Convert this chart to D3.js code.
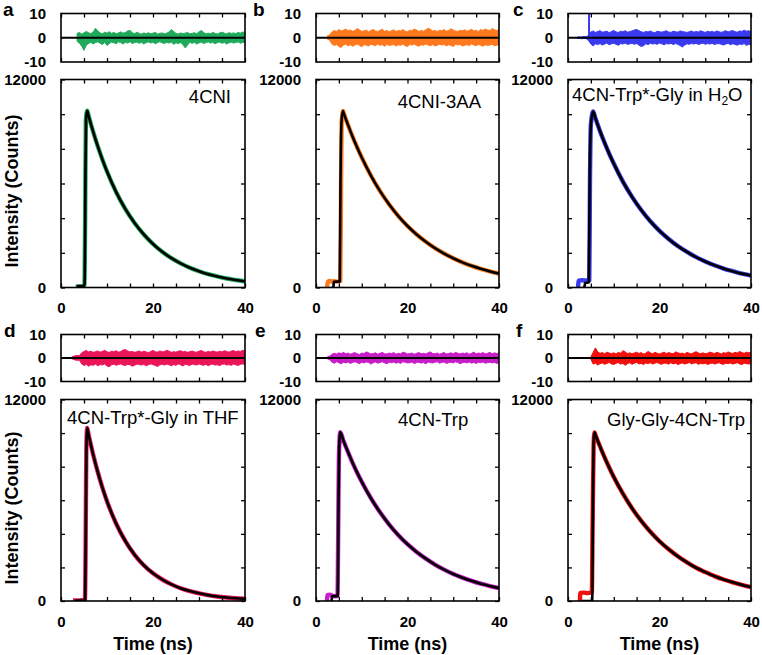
<!DOCTYPE html>
<html><head><meta charset="utf-8">
<script src="https://cdn.jsdelivr.net/npm/d3@7"></script>
<style>body{margin:0;background:#fff} svg text{font-family:"Liberation Sans",Arial,sans-serif}</style>
</head><body><svg id="chart" width="762" height="655"></svg>
<script>
// ---------------- DATA ----------------
const panelLetters = ["a","b","c","d","e","f"];
const panelNames = ["4CNI","4CNI-3AA","4CN-Trp*-Gly in H2O","4CN-Trp*-Gly in THF","4CN-Trp","Gly-Gly-4CN-Trp"];
const xTicks = [0,5,10,15,20,25,30,35,40];
const xTickLabels = [0,20,40];
const yMainTicks = [0,2000,4000,6000,8000,10000,12000];
const yMainLabels = [0,12000];
const yResTicks = [-10,0,10];

// decay part (ns) shared grid
const decayT = [6,7,8,9,10,12,14,16,18,20,22,24,26,28,30,32,34,36,38,40];
const aDecay = [9900,8980,8140,7380,6690,5500,4520,3720,3060,2510,2060,1690,1390,1140,940,770,640,520,430,350];
const bDecay = [10100,9380,8700,8080,7500,6460,5560,4790,4120,3550,3060,2640,2270,1960,1690,1450,1250,1080,930,800];
const cDecay = [9760,9020,8350,7720,7150,6110,5230,4470,3820,3270,2800,2390,2050,1750,1500,1280,1090,940,800,690];
const dDecay = [9910,8710,7670,6750,5940,4600,3560,2750,2130,1650,1280,990,760,590,460,350,270,210,160,130];
const eDecay = [9540,8870,8230,7640,7100,6120,5280,4550,3920,3380,2920,2520,2170,1870,1610,1390,1200,1030,890,770];
const fDecay = [9890,9200,8550,7950,7390,6390,5520,4770,4120,3560,3080,2660,2300,1980,1720,1480,1280,1110,960,830];

// rise part: measured data (colored)
const aRiseT = [3.2,4.0,4.8,5.1,5.25,5.4,5.7];      const aRiseY = [40,60,70,150,4000,9600,10200];
const bRiseT = [2.4,2.6,3.0,3.5,4.0,4.5,5.0,5.3,5.45,5.6,5.9]; const bRiseY = [0,330,380,350,360,340,360,380,5000,9500,10180];
const cRiseT = [2.2,2.35,3.0,3.6,4.1,4.5,4.65,4.8,5.0,5.5]; const cRiseY = [0,400,420,400,410,380,400,6000,9400,10150];
const dRiseT = [2.6,4.0,5.2,5.35,5.5,5.7];          const dRiseY = [30,40,60,3000,9000,10300];
const eRiseT = [2.4,2.5,3.0,3.4,3.5,4.7,4.85,5.0,5.3]; const eRiseY = [0,350,380,350,280,300,4000,8500,10050];
const fRiseT = [2.6,2.7,3.5,4.2,5.0,5.2,5.4,5.6,5.8]; const fRiseY = [0,480,500,470,490,480,5000,9300,10040];
// rise part: fit (black)
const aFitT = [3.4,4.8,5.15,5.3,5.45,5.7];          const aFitY = [80,90,200,6000,9800,10200];
const bFitT = [3.4,3.8,3.9,5.2,5.35,5.6,5.9];        const bFitY = [0,0,330,350,6000,9700,10180];
const cFitT = [3.2,3.6,3.7,4.55,4.7,5.0,5.5];        const cFitY = [0,0,250,300,5000,9400,10150];
const dFitT = [3.0,5.25,5.4,5.55,5.7];               const dFitY = [20,40,5000,9600,10300];
const eFitT = [3.4,3.5,4.75,4.9,5.05,5.3];           const eFitY = [0,280,300,5000,9000,10050];
const fFitT = [3.0,5.3,5.45,5.6,5.8];                const fFitY = [0,0,6000,9500,10040];

// residual envelopes, sampled every resStep ns from the start time
const resStep = 0.5;
const resStart = [3.5,2.5,2.0,2.5,2.5,5.0];
const aResHi = [1.8,2.2,1.5,2.0,2.6,2.1,1.7,2.4,3.9,2.8,2.0,1.6,2.3,1.9,2.5,1.8,2.2,1.6,2.0,2.4,1.9,2.2,2.8,3.0,2.1,1.7,2.3,1.8,1.5,2.0,1.7,2.1,1.6,1.9,2.2,1.5,1.8,2.0,1.6,1.9,2.4,3.4,2.6,1.8,1.5,2.0,1.7,1.9,2.2,1.6,1.8,2.1,1.7,2.4,3.0,2.2,1.6,1.9,1.7,2.2,1.8,1.5,2.0,2.3,1.9,1.6,2.1,1.8,2.0,1.7,2.2,1.9,2.4,2.0];
const aResLo = [-1.5,-2.2,-3.5,-5.2,-3.0,-2.4,-1.9,-2.6,-2.0,-1.7,-2.3,-2.8,-1.9,-3.2,-2.4,-1.8,-2.1,-2.5,-1.7,-2.0,-2.6,-1.9,-2.2,-1.6,-2.4,-2.0,-1.8,-2.3,-1.9,-2.6,-2.0,-1.7,-2.2,-1.8,-2.5,-2.0,-1.6,-2.1,-2.4,-1.9,-2.2,-1.8,-2.7,-2.1,-2.4,-2.0,-2.8,-4.2,-3.0,-1.9,-2.3,-1.9,-2.6,-2.1,-1.8,-2.4,-2.0,-1.7,-2.2,-1.9,-2.5,-2.0,-1.8,-2.3,-1.9,-2.6,-2.1,-1.8,-2.2,-2.0,-1.7,-2.3,-1.9,-2.1];
const bResHi = [0.8,1.2,2.4,3.0,2.6,3.4,2.8,3.1,3.6,2.9,3.2,2.7,3.0,3.8,3.3,2.6,2.9,3.1,2.5,3.0,3.4,2.8,2.6,3.1,3.5,2.7,3.0,2.5,2.9,3.3,2.6,3.0,2.8,3.4,2.7,2.5,3.1,2.9,3.6,3.2,2.6,3.0,2.7,3.3,3.9,3.5,2.8,3.0,2.6,3.1,2.9,3.4,2.7,3.0,3.7,3.2,2.8,2.6,3.1,2.9,3.3,2.7,3.0,3.5,2.8,3.1,2.6,3.4,3.0,3.6,3.2,2.9,3.8,3.3,3.0,3.4];
const bResLo = [-0.6,-1.0,-2.6,-3.2,-2.8,-3.6,-4.0,-3.0,-2.7,-3.3,-2.9,-3.5,-3.0,-2.6,-3.2,-3.7,-2.8,-3.1,-3.4,-2.7,-3.0,-3.3,-2.6,-3.1,-2.9,-3.5,-2.7,-3.2,-3.0,-2.8,-3.4,-2.9,-3.1,-2.6,-3.3,-3.6,-2.8,-3.0,-2.7,-3.2,-3.5,-2.9,-3.1,-2.6,-3.0,-3.3,-2.8,-3.4,-3.1,-2.7,-3.0,-2.8,-3.3,-2.9,-3.2,-3.6,-2.7,-3.0,-2.8,-3.4,-3.1,-2.9,-3.2,-2.6,-3.0,-3.3,-2.8,-3.1,-3.5,-2.9,-3.2,-3.0,-2.7,-3.3,-3.1,-2.8];
const cResHi = [0.3,0.4,0.3,0.5,0.4,1.0,2.4,2.8,2.2,2.6,2.9,2.3,2.5,2.7,2.1,2.6,3.0,2.4,2.2,2.7,2.5,2.9,2.3,2.6,2.8,3.2,3.4,2.9,2.5,2.2,2.6,2.4,2.8,2.3,2.1,2.7,2.5,2.3,2.6,2.9,2.4,2.2,2.7,2.5,2.3,2.8,2.6,2.4,2.2,2.5,2.8,2.3,2.6,2.4,2.9,2.5,2.2,2.7,2.4,2.6,2.3,2.8,2.5,2.2,2.6,2.9,2.4,2.7,3.0,2.5,2.3,2.8,2.6,3.1,2.7,2.9,2.5];
const cResLo = [-0.3,-0.3,-0.4,-0.3,-0.4,-1.2,-2.6,-3.4,-2.5,-2.8,-2.4,-3.0,-2.6,-2.2,-2.9,-2.5,-2.3,-2.7,-3.1,-2.4,-2.6,-2.2,-2.8,-2.5,-2.3,-2.7,-2.4,-3.0,-3.6,-3.3,-2.5,-2.8,-2.3,-2.6,-2.4,-2.7,-2.2,-2.5,-2.9,-2.4,-2.6,-2.3,-2.8,-2.4,-2.7,-3.2,-3.8,-3.0,-2.5,-2.7,-2.4,-2.6,-2.3,-2.8,-2.5,-2.2,-2.7,-2.4,-2.6,-2.3,-2.8,-2.5,-2.4,-2.7,-3.0,-2.6,-2.3,-2.9,-2.5,-2.7,-3.1,-2.6,-2.8,-2.4,-3.2,-2.7,-2.9];
const dResHi = [0.6,0.9,1.1,1.0,2.2,2.8,3.2,2.6,2.9,2.4,2.7,3.0,2.5,2.8,3.3,2.6,2.4,2.9,2.7,3.1,2.5,2.8,3.4,3.6,3.0,2.6,2.8,2.4,2.7,3.0,2.5,2.9,2.6,2.3,2.8,3.2,2.7,2.5,3.0,2.6,2.8,3.3,2.9,2.4,2.7,2.5,2.9,3.1,2.6,2.8,2.4,2.7,3.0,2.6,2.5,2.9,3.2,2.7,2.4,2.8,2.6,3.0,2.7,2.5,2.9,2.6,3.1,2.8,2.5,2.9,3.2,2.7,3.0,2.8,3.3,2.9];
const dResLo = [-0.5,-0.8,-1.0,-0.9,-2.5,-3.2,-2.7,-3.5,-2.9,-3.1,-2.6,-3.3,-2.8,-3.0,-2.5,-3.4,-3.7,-2.9,-2.6,-3.1,-2.8,-2.5,-3.0,-3.2,-2.7,-2.9,-3.5,-3.1,-2.6,-2.8,-3.0,-2.7,-3.3,-2.9,-2.5,-2.8,-3.2,-3.6,-2.9,-2.7,-3.0,-2.6,-2.9,-3.3,-2.8,-3.1,-2.5,-2.9,-3.4,-2.7,-2.9,-3.2,-2.6,-2.8,-3.0,-2.5,-2.9,-3.1,-2.7,-3.3,-2.8,-2.6,-3.0,-2.9,-3.2,-2.7,-2.5,-3.0,-2.8,-3.1,-2.6,-2.9,-3.2,-2.7,-2.5,-2.8];
const eResHi = [0.5,0.8,1.6,2.0,1.7,2.2,1.9,2.4,1.8,2.1,1.6,2.0,2.3,1.8,1.5,2.1,1.9,2.6,2.2,1.7,1.9,2.2,1.6,2.0,2.4,1.8,1.7,2.1,1.9,2.3,1.6,2.0,1.8,2.5,2.2,1.7,1.9,2.1,1.6,2.0,2.3,1.8,2.0,1.7,2.2,2.6,1.9,1.8,2.1,1.6,2.0,2.3,1.7,1.9,2.2,1.8,2.4,2.0,1.7,2.1,1.9,2.2,1.6,2.0,2.5,1.8,2.1,1.9,2.3,1.7,2.0,2.4,1.8,2.2,1.9,2.1];
const eResLo = [-0.4,-0.7,-1.8,-2.2,-1.6,-2.0,-2.5,-1.8,-2.1,-1.7,-2.3,-1.9,-1.6,-2.0,-2.4,-1.8,-2.1,-1.7,-1.9,-2.6,-2.0,-1.7,-2.2,-1.9,-1.6,-2.1,-2.4,-1.8,-2.0,-1.7,-2.2,-1.9,-2.3,-1.6,-1.8,-2.1,-2.0,-1.7,-2.4,-1.9,-1.8,-2.2,-1.9,-2.5,-1.7,-2.0,-2.1,-1.8,-1.6,-2.2,-1.9,-1.7,-2.3,-2.0,-1.8,-2.1,-1.6,-1.9,-2.4,-2.0,-1.8,-2.1,-1.7,-2.2,-1.9,-2.3,-1.8,-2.0,-1.7,-2.2,-2.0,-1.8,-2.1,-1.9,-2.3,-2.0];
const fResHi = [0.5,2.4,4.3,2.6,2.0,2.3,1.8,2.5,2.1,1.9,2.2,1.7,2.4,2.0,3.1,2.6,1.9,2.2,1.8,2.1,2.5,1.9,2.3,1.7,2.0,2.8,2.2,1.8,2.4,2.0,1.7,2.1,2.5,1.9,2.3,2.0,1.8,2.6,2.2,1.9,2.1,1.7,2.4,2.0,1.8,2.3,2.7,2.1,1.9,2.2,1.8,2.0,2.5,2.2,1.9,2.4,2.1,1.7,2.3,2.0,2.6,2.2,1.9,2.4,2.1,2.8,2.3,2.0,2.5,2.2,2.4];
const fResLo = [-0.5,-2.6,-2.2,-3.0,-2.4,-2.1,-2.7,-2.3,-1.9,-2.5,-2.8,-2.2,-2.0,-2.6,-2.3,-3.1,-2.4,-2.0,-2.7,-2.2,-1.9,-2.5,-2.3,-2.8,-2.1,-2.4,-2.0,-2.6,-2.2,-1.9,-2.4,-2.7,-2.1,-2.3,-2.6,-2.0,-2.5,-2.2,-2.8,-2.4,-2.1,-2.6,-2.3,-1.9,-2.5,-2.2,-2.0,-2.7,-2.3,-2.5,-2.2,-2.8,-2.4,-2.1,-2.6,-2.3,-2.0,-2.5,-2.7,-2.2,-2.4,-2.1,-2.6,-2.3,-2.0,-2.5,-2.8,-2.2,-2.4,-2.6,-2.3];
// single-channel residual spikes [time, value]
const cSpikes = [[4.6,10]];

// ---------------- STYLE / LAYOUT ----------------
const colors = ["#1faa5a","#ff7a1e","#3a3aee","#eb1658","#c81ec8","#f0100e"];
const cols = [[61,245],[316,499],[568,751]];
const rows = [{rt:13.5,rb:62,mt:79.5,mb:287.5},{rt:334.5,rb:381.5,mt:399.5,mb:601}];
const letterX = [3,253,513,4,255,516];
const labelPos = [{x:231,y:103,a:"end"},{x:481,y:108,a:"end"},{x:572,y:101,a:"start"},
                  {x:67,y:424,a:"start"},{x:398,y:426,a:"start"},{x:607,y:426,a:"start"}];

const riseT = [aRiseT,bRiseT,cRiseT,dRiseT,eRiseT,fRiseT];
const riseY = [aRiseY,bRiseY,cRiseY,dRiseY,eRiseY,fRiseY];
const fitT = [aFitT,bFitT,cFitT,dFitT,eFitT,fFitT];
const fitY = [aFitY,bFitY,cFitY,dFitY,eFitY,fFitY];
const decays = [aDecay,bDecay,cDecay,dDecay,eDecay,fDecay];
const resHi = [aResHi,bResHi,cResHi,dResHi,eResHi,fResHi];
const resLo = [aResLo,bResLo,cResLo,dResLo,eResLo,fResLo];
const spikes = [[],[],cSpikes,[],[],[]];

const svg = d3.select("#chart");
const FONT = '"Liberation Sans",Arial,sans-serif';

function styleAxis(g){
  g.select(".domain").remove();
  g.attr("font-family",FONT).attr("font-size",15).attr("font-weight","bold");
  g.selectAll(".tick line").attr("stroke","#000").attr("stroke-width",1.3);
  g.selectAll(".tick text").attr("fill","#000");
}

panelLetters.forEach((letter,i)=>{
  const [x0,x1] = cols[i%3];
  const r = rows[Math.floor(i/3)];
  const bottomRow = i>=3;
  const x = d3.scaleLinear().domain([0,40]).range([x0,x1]);
  const yr = d3.scaleLinear().domain([-10,10]).range([r.rb,r.rt]);
  const ym = d3.scaleLinear().domain([0,12000]).range([r.mb,r.mt]);
  const g = svg.append("g");

  g.append("clipPath").attr("id","cr"+i).append("rect")
    .attr("x",x0).attr("y",r.rt).attr("width",x1-x0).attr("height",r.rb-r.rt);
  g.append("clipPath").attr("id","cm"+i).append("rect")
    .attr("x",x0).attr("y",r.mt).attr("width",x1-x0).attr("height",r.mb-r.mt);

  // ---- residual panel ----
  const rg = g.append("g").attr("clip-path",`url(#cr${i})`);
  const rt = resHi[i].map((_,k)=>resStart[i]+k*resStep);
  const area = d3.area().x((d,k)=>x(rt[k])).y0((d,k)=>yr(resLo[i][k])).y1((d,k)=>yr(resHi[i][k]));
  rg.append("path").datum(resHi[i]).attr("d",area).attr("fill",colors[i])
    .attr("stroke",colors[i]).attr("stroke-width",1).attr("stroke-linejoin","round");
  spikes[i].forEach(s=>{
    rg.append("line").attr("x1",x(s[0])).attr("x2",x(s[0])).attr("y1",yr(0)).attr("y2",yr(s[1]))
      .attr("stroke",colors[i]).attr("stroke-width",2);
  });
  rg.append("line").attr("x1",x0).attr("x2",x1).attr("y1",yr(0)).attr("y2",yr(0))
    .attr("stroke","#000").attr("stroke-width",2);

  // ---- main panel ----
  const mg = g.append("g").attr("clip-path",`url(#cm${i})`);
  const dataPts = riseT[i].map((t,k)=>[t,riseY[i][k]]).concat(decayT.map((t,k)=>[t,decays[i][k]]));
  const fitPts = fitT[i].map((t,k)=>[t,fitY[i][k]]).concat(decayT.map((t,k)=>[t,decays[i][k]]));
  const line = d3.line().x(d=>x(d[0])).y(d=>ym(d[1])).curve(d3.curveMonotoneX);
  mg.append("path").datum(dataPts).attr("d",line).attr("fill","none")
    .attr("stroke",colors[i]).attr("stroke-width",4.4).attr("stroke-linejoin","round");
  mg.append("path").datum(fitPts).attr("d",line).attr("fill","none")
    .attr("stroke","#000").attr("stroke-width",2.6).attr("stroke-linejoin","round");

  // ---- axes ----
  [[r.rt,r.rb],[r.mt,r.mb]].forEach(([top,bot],j)=>{
    g.append("g").attr("transform",`translate(0,${bot})`)
      .call(d3.axisBottom(x).tickValues(xTicks).tickSizeInner(-4).tickSizeOuter(0).tickPadding(15)
        .tickFormat(d=> (j===1 && xTickLabels.includes(d)) ? String(d) : ""))
      .call(styleAxis);
    g.append("g").attr("transform",`translate(0,${top})`)
      .call(d3.axisTop(x).tickValues(xTicks).tickSizeInner(-4).tickSizeOuter(0).tickFormat(""))
      .call(styleAxis);
    g.append("rect").attr("x",x0).attr("y",top).attr("width",x1-x0).attr("height",bot-top)
      .attr("fill","none").attr("stroke","#000").attr("stroke-width",1.6);
  });
  g.append("g").attr("transform",`translate(${x0},0)`)
    .call(d3.axisLeft(ym).tickValues(yMainTicks).tickSizeInner(-4).tickSizeOuter(0).tickPadding(15)
      .tickFormat(d=> yMainLabels.includes(d) ? String(d) : ""))
    .call(styleAxis);
  g.append("g").attr("transform",`translate(${x1},0)`)
    .call(d3.axisRight(ym).tickValues(yMainTicks).tickSizeInner(-4).tickSizeOuter(0).tickFormat(""))
    .call(styleAxis);
  g.append("g").attr("transform",`translate(${x0},0)`)
    .call(d3.axisLeft(yr).tickValues(yResTicks).tickSizeInner(0).tickSizeOuter(0).tickPadding(15)
      .tickFormat(d=>String(d)))
    .call(styleAxis);

  // panel letter
  g.append("text").attr("x",letterX[i]).attr("y",r.rt+2.5).text(letter)
    .attr("font-size",19).attr("font-weight","bold").attr("fill","#000");

  // sample label
  const lp = labelPos[i];
  const t = g.append("text").attr("x",lp.x).attr("y",lp.y).attr("text-anchor",lp.a)
    .attr("font-size",18.5).attr("fill","#000");
  const name = panelNames[i];
  if (name.endsWith("H2O")) {
    t.append("tspan").text(name.slice(0,-2));
    t.append("tspan").attr("font-size",12).attr("dy",4).text("2");
    t.append("tspan").attr("dy",-4).text("O");
  } else t.text(name);

  if (bottomRow) {
    g.append("text").attr("x",(x0+x1)/2).attr("y",650).attr("text-anchor","middle")
      .attr("font-size",18).attr("font-weight","bold").text("Time (ns)");
  }
});

[191,508].forEach(cy=>{
  svg.append("text").attr("transform",`translate(18,${cy}) rotate(-90)`).attr("text-anchor","middle")
    .attr("font-size",18).attr("font-weight","bold").text("Intensity (Counts)");
});
</script></body></html>
